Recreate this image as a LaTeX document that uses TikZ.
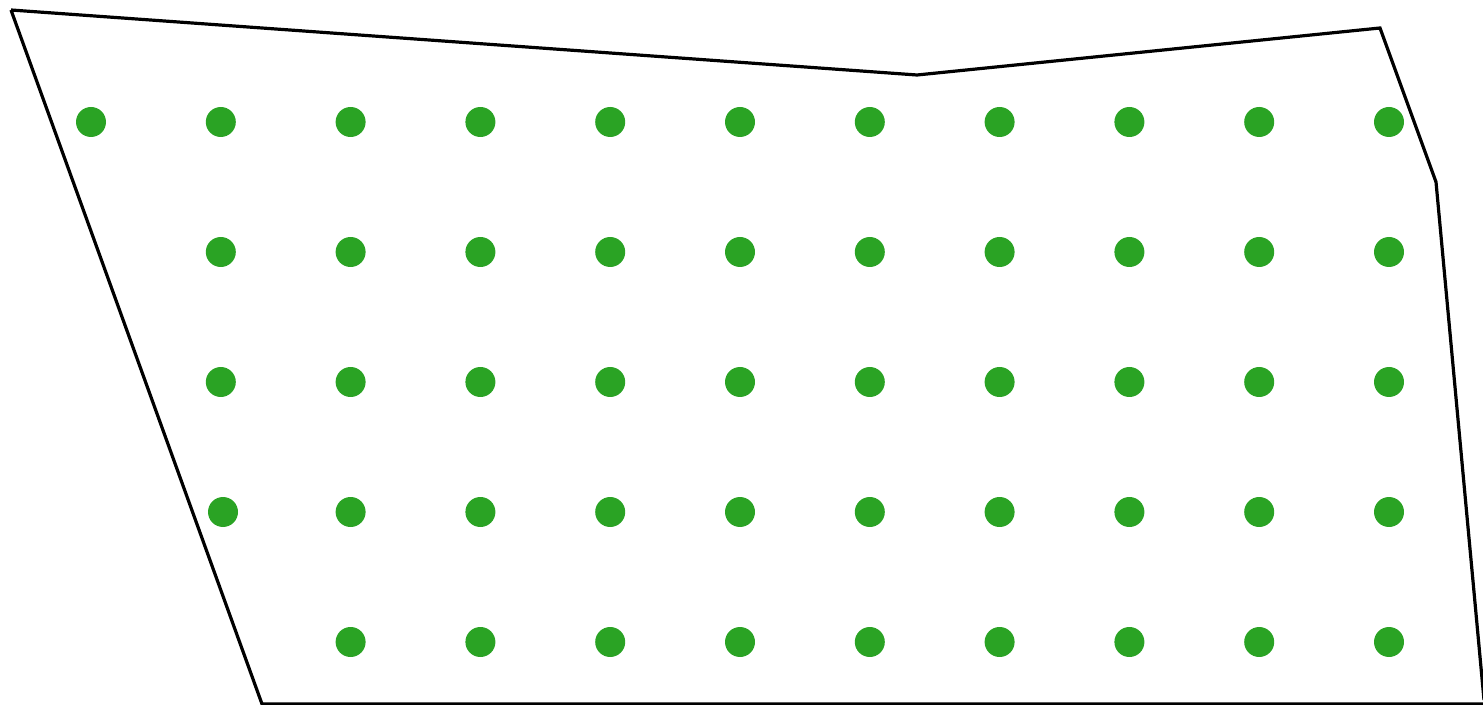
\documentclass[tikz,border=0pt]{standalone}
\definecolor{dotgreen}{RGB}{42,163,36}
\tikzset{dotstyle/.style={fill=dotgreen, draw=none}, edge/.style={line width=1.6pt, line join=miter, black}}
\begin{document}
\begin{tikzpicture}[x=0.5pt,y=-0.5pt]
\useasboundingbox (0,0) rectangle (1483,705);
\draw[edge] (11,10) -- (917,75) -- (1380,28) -- (1436,182) -- (1484,700);
\draw[edge] (11,10) -- (262,704) -- (1484,704);
\foreach \i in {0,...,10} \fill[dotstyle] ({91+129.8*\i},122) circle (15);
\foreach \i in {1,...,10} \fill[dotstyle] ({91+129.8*\i},252) circle (15);
\foreach \i in {1,...,10} \fill[dotstyle] ({91+129.8*\i},382) circle (15);
\fill[dotstyle] (223,512) circle (15);
\foreach \i in {2,...,10} \fill[dotstyle] ({91+129.8*\i},512) circle (15);
\foreach \i in {2,...,10} \fill[dotstyle] ({91+129.8*\i},642) circle (15);
\end{tikzpicture}
\end{document}
